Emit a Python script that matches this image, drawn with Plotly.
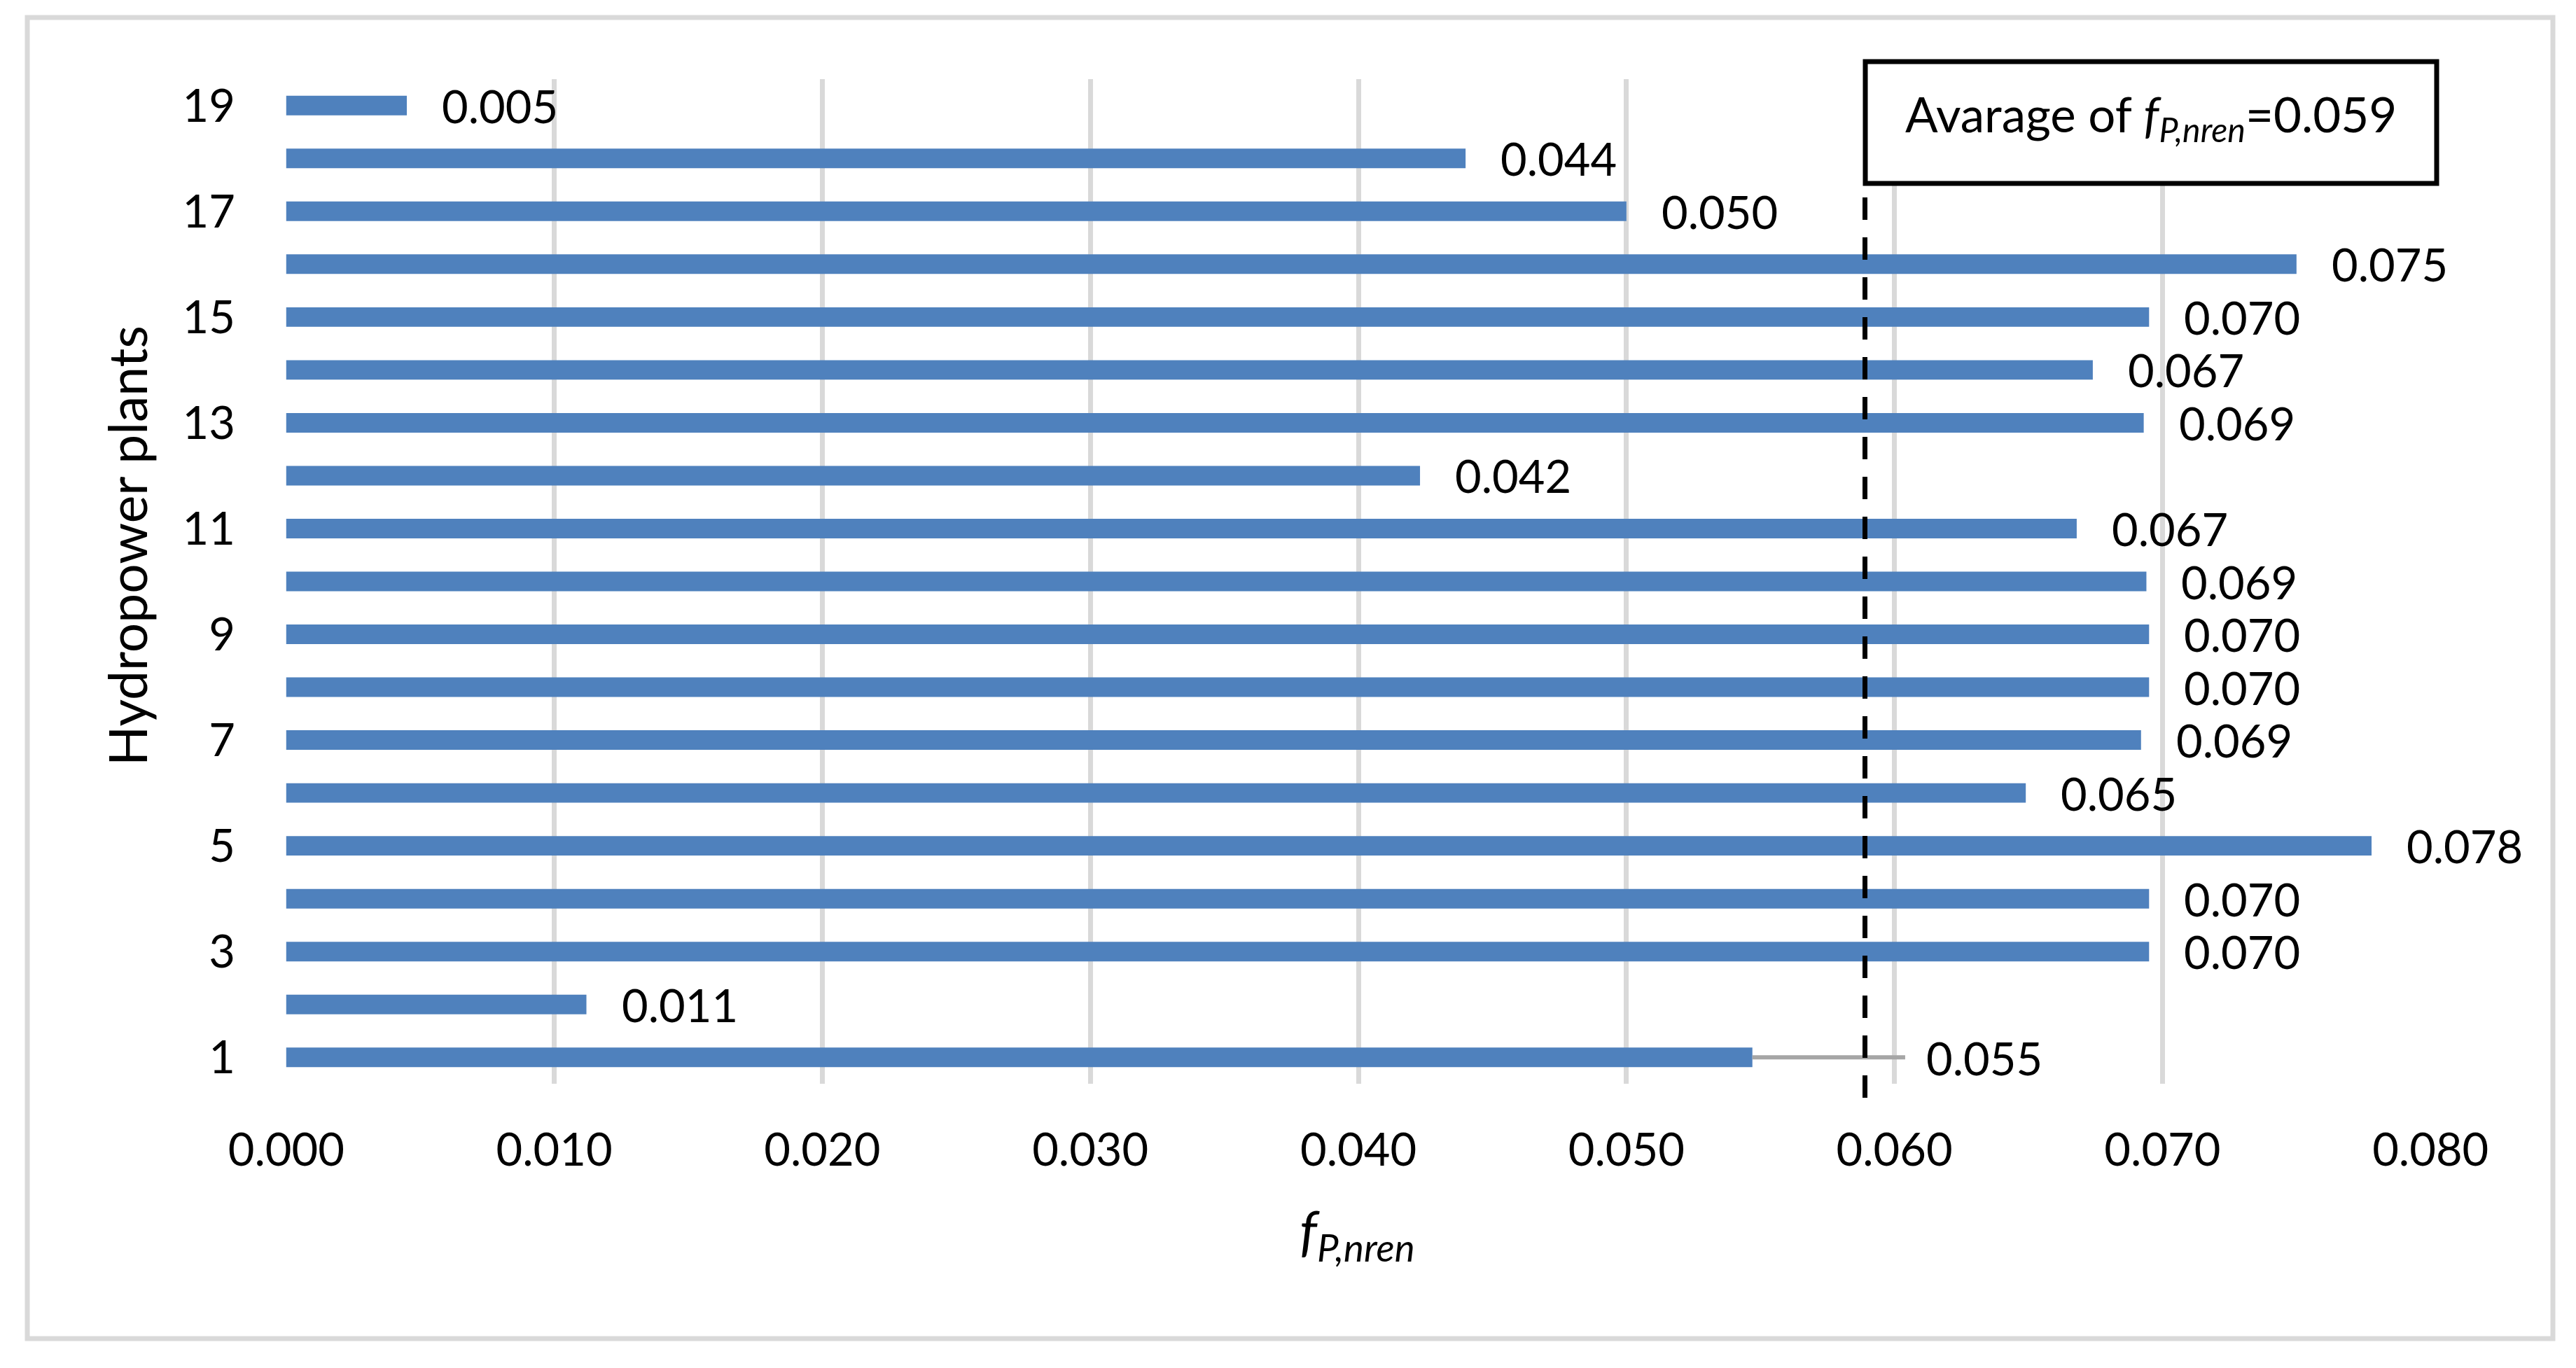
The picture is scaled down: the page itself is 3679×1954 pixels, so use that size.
import plotly.graph_objects as go

# ---- data ----
plants = list(range(1, 20))
f_p_nren = [0.0547, 0.0112, 0.0695, 0.0695, 0.0778, 0.0649, 0.0692, 0.0695, 0.0695, 0.0694,
            0.0668, 0.0423, 0.0693, 0.0674, 0.0695, 0.0750, 0.0500, 0.0440, 0.0045]
value_labels = ["0.055", "0.011", "0.070", "0.070", "0.078", "0.065", "0.069", "0.070", "0.070", "0.069",
                "0.067", "0.042", "0.069", "0.067", "0.070", "0.075", "0.050", "0.044", "0.005"]
y_tick_vals = [1, 3, 5, 7, 9, 11, 13, 15, 17, 19]
x_tick_vals = [0.0, 0.01, 0.02, 0.03, 0.04, 0.05, 0.06, 0.07, 0.08]
x_tick_text = ["0.000", "0.010", "0.020", "0.030", "0.040", "0.050", "0.060", "0.070", "0.080"]
average_value = 0.0589
average_label = "0.059"
label1_leader_end = 0.0604   # plant 1 label was moved right, with a leader line

FONT = "Lato, 'Open Sans', sans-serif"
BAR_COLOR = "#4f81bd"
GRID = "#d9d9d9"

W, H = 3679, 1954
L, R, T, B = 408, 207, 113, 406

fig = go.Figure()
fig.add_trace(go.Bar(
    x=f_p_nren, y=plants, orientation="h",
    marker=dict(color=BAR_COLOR, line=dict(width=0)),
    width=0.37, hoverinfo="x+y", showlegend=False,
))

annotations = []
for i, (v, p, t) in enumerate(zip(f_p_nren, plants, value_labels)):
    if i == 0:
        annotations.append(dict(x=label1_leader_end, y=p, xref="x", yref="y", text=t,
                                showarrow=False, xanchor="left", yanchor="middle", xshift=28, yshift=-1,
                                font=dict(family=FONT, size=65, color="#000000")))
    else:
        annotations.append(dict(x=v, y=p, xref="x", yref="y", text=t,
                                showarrow=False, xanchor="left", yanchor="middle", xshift=48, yshift=0,
                                font=dict(family=FONT, size=65, color="#000000")))

plot_w = W - L - R
plot_h = H - T - B
def py(pix):
    return (H - B - pix) / plot_h
def px(pix):
    return (pix - L) / plot_w

box_x0, box_x1 = px(2664), px(3480)
box_y0, box_y1 = py(262), py(88)

# average text box
annotations.append(dict(x=(box_x0 + box_x1) / 2, y=(box_y0 + box_y1) / 2, xref="paper", yref="paper",
                        text="Avarage of <i>f</i><sub><i>P,nren</i></sub>=" + average_label,
                        showarrow=False, xanchor="center", yanchor="middle", yshift=8,
                        font=dict(family=FONT, size=69, color="#000000")))
# axis titles
annotations.append(dict(x=px(181), y=py(780), xref="paper", yref="paper", text="Hydropower plants",
                        textangle=-90, showarrow=False, xanchor="center", yanchor="middle",
                        font=dict(family=FONT, size=75, color="#000000")))
annotations.append(dict(x=px(1938), y=py(1771), xref="paper", yref="paper",
                        text="<i>f</i><sub><i>P,nren</i></sub>",
                        showarrow=False, xanchor="center", yanchor="middle", yshift=10,
                        font=dict(family=FONT, size=78, color="#000000")))

shapes = [
    # leader line for plant 1 label
    dict(type="line", xref="x", yref="y", x0=f_p_nren[0], x1=label1_leader_end, y0=plants[0], y1=plants[0],
         line=dict(color="#a6a6a6", width=6), layer="above"),
    # average dashed line
    dict(type="line", xref="x", yref="paper", x0=average_value, x1=average_value, y0=py(1568), y1=box_y0,
         line=dict(color="#000000", width=7, dash="32px,25px"), layer="above"),
    # average box
    dict(type="rect", xref="paper", yref="paper", x0=box_x0, x1=box_x1, y0=box_y0, y1=box_y1,
         line=dict(color="#000000", width=7), fillcolor="white", layer="above"),
    # outer chart border
    dict(type="rect", xref="paper", yref="paper", x0=px(39), x1=px(3646), y0=py(1912), y1=py(25),
         line=dict(color=GRID, width=7), layer="below"),
]

fig.update_layout(
    width=W, height=H,
    margin=dict(l=L, r=R, t=T, b=B, pad=0),
    paper_bgcolor="white", plot_bgcolor="white",
    font=dict(family=FONT, size=65, color="#000000"),
    annotations=annotations, shapes=shapes,
)
fig.update_xaxes(
    range=[-0.00002, 0.08002], tickvals=x_tick_vals, ticktext=x_tick_text,
    showgrid=True, gridcolor=GRID, gridwidth=7, zeroline=False, showline=False,
    ticks="outside", ticklen=38, tickcolor="rgba(0,0,0,0)",
    tickfont=dict(family=FONT, size=65, color="#000000"),
)
fig.update_yaxes(
    range=[0.5, 19.5], tickvals=y_tick_vals, ticktext=[str(v) for v in y_tick_vals],
    showgrid=False, zeroline=False, showline=False,
    ticks="outside", ticklen=58, tickcolor="rgba(0,0,0,0)",
    tickfont=dict(family=FONT, size=65, color="#000000"),
)

fig.write_html("out.html", config={"displayModeBar": False},
               post_script="document.body.style.margin='0';")
